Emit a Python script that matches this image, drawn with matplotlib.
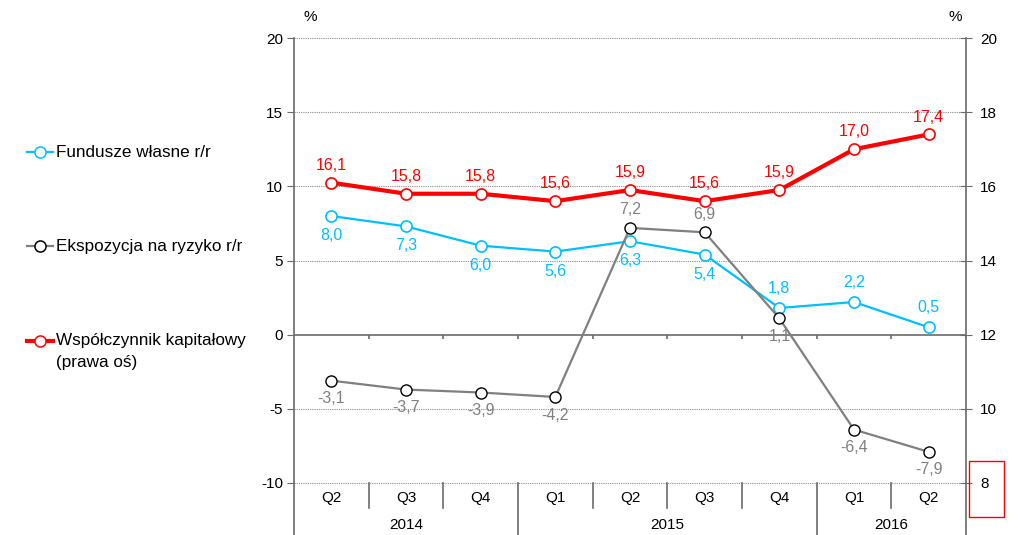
import matplotlib.pyplot as plt
from matplotlib.lines import Line2D
from matplotlib.patches import Rectangle
import matplotlib.transforms as mtransforms

plt.rcParams['font.family'] = ['Liberation Sans', 'DejaVu Sans']
plt.rcParams['axes.unicode_minus'] = False

quarters = ['Q2', 'Q3', 'Q4', 'Q1', 'Q2', 'Q3', 'Q4', 'Q1', 'Q2']
years = ['2014', '2015', '2016']
year_spans = [(0, 2), (3, 6), (7, 8)]  # first and last quarter index of each year
fundusze = [8.0, 7.3, 6.0, 5.6, 6.3, 5.4, 1.8, 2.2, 0.5]
ekspozycja = [-3.1, -3.7, -3.9, -4.2, 7.2, 6.9, 1.1, -6.4, -7.9]
wspolczynnik = [16.1, 15.8, 15.8, 15.6, 15.9, 15.6, 15.9, 17.0, 17.4]

# where the value label sits: 1 above the marker, -1 below
pos_fund = [-1, -1, -1, -1, -1, -1, 1, 1, 1]
pos_eksp = [-1, -1, -1, -1, 1, 1, -1, -1, -1]

CYAN = '#00BFFF'
GREY = '#808080'
RED = '#FF0000'

W, H = 1018, 535
fig = plt.figure(figsize=(W / 100, H / 100), dpi=100)
ax = fig.add_axes([294 / W, (H - 483) / H, (966 - 294) / W, (483 - 38) / H])
ax2 = ax.twinx()

x = list(range(len(quarters)))
ax.set_xlim(-0.5, len(quarters) - 0.5)
ax.set_ylim(-10, 20)
ax2.set_ylim(8, 20)
ax.set_yticks([-10, -5, 0, 5, 10, 15, 20])
ax2.set_yticks([8, 10, 12, 14, 16, 18, 20])
ax.set_xticks([])

for a in (ax, ax2):
    for s in ('top', 'bottom'):
        a.spines[s].set_visible(False)
    a.spines['left'].set_color('#6b6b6b')
    a.spines['right'].set_color('#6b6b6b')
    a.spines['left'].set_linewidth(1.2)
    a.spines['right'].set_linewidth(1.2)
ax2.spines['left'].set_visible(False)
ax.spines['right'].set_visible(False)
ax.tick_params(axis='y', direction='out', length=5, color='#6b6b6b', labelsize=11, pad=3)
ax2.tick_params(axis='y', direction='inout', length=8, color='#6b6b6b', labelsize=11, pad=6)

# grid (dotted) except zero line, which is solid
for v in [-10, -5, 5, 10, 15, 20]:
    ax.axhline(v, color='#8c8c8c', lw=0.8, ls=(0, (1, 1)), zorder=0, clip_on=False)
ax.axhline(0, color='#6b6b6b', lw=1.2, zorder=1)
bounds = [i + 0.5 for i in range(len(quarters) - 1)] + [len(quarters) - 0.5]
ax.vlines(bounds, -0.3, 0, color='#6b6b6b', lw=1.2, zorder=1)

# series
ax.plot(x, fundusze, color=CYAN, lw=1.6, marker='o', ms=8, mfc='white', mec=CYAN, mew=1.2, zorder=3)
ax.plot(x, ekspozycja, color=GREY, lw=1.6, marker='o', ms=8, mfc='white', mec='black', mew=1.0, zorder=4)
ax2.plot(x, wspolczynnik, color=RED, lw=3, marker='o', ms=8, mfc='white', mec=RED, mew=1.2, zorder=5)


def fmt(v):
    return f'{v:.1f}'.replace('.', ',')


for i, v in enumerate(fundusze):
    ax.annotate(fmt(v), (i, v), xytext=(0, 14 * pos_fund[i]), textcoords='offset points',
                ha='center', va='center', color=CYAN, fontsize=11.5)
for i, v in enumerate(ekspozycja):
    ax.annotate(fmt(v), (i, v), xytext=(0, 13 * pos_eksp[i]), textcoords='offset points',
                ha='center', va='center', color=GREY, fontsize=11.5)
for i, v in enumerate(wspolczynnik):
    ax2.annotate(fmt(v), (i, v), xytext=(0, 12.5), textcoords='offset points',
                 ha='center', va='center', color=RED, fontsize=11.5)

# category table under the plot
tr = mtransforms.blended_transform_factory(ax.transData, ax.transAxes)
bot = -52 / 445
for i, q in enumerate(quarters):
    ax.text(i, -15 / 445, q, transform=tr, ha='center', va='center', fontsize=11)
year_sep = [s[0] - 0.5 for s in year_spans] + [len(quarters) - 0.5]
for b in year_sep:
    ax.plot([b, b], [0, bot], transform=tr, color='#6b6b6b', lw=1.2, clip_on=False)
for b in bounds[:-1]:
    if b not in year_sep:
        ax.plot([b, b], [0, -25 / 445], transform=tr, color='#6b6b6b', lw=1.2, clip_on=False)
for yr, (a0, a1) in zip(years, year_spans):
    ax.text((a0 + a1) / 2, -42 / 445, yr, transform=tr, ha='center', va='center', fontsize=11)

# % labels
fig.text(310 / W, 1 - 17 / H, '%', ha='center', va='center', fontsize=11)
fig.text(955 / W, 1 - 17 / H, '%', ha='center', va='center', fontsize=11)

# red box around the bottom right label
fig.add_artist(Rectangle((969 / W, 1 - 517 / H), 35 / W, 56 / H, transform=fig.transFigure,
                         fill=False, edgecolor=RED, lw=1))

# legend on the left
entries = [
    (152, 'Fundusze własne r/r', CYAN, CYAN, 1.6),
    (246, 'Ekspozycja na ryzyko r/r', GREY, 'black', 1.6),
    (341, 'Współczynnik kapitałowy', RED, RED, 3),
]
for yp, label, lc, mc, lw in entries:
    yf = 1 - yp / H
    fig.add_artist(Line2D([27 / W, 53 / W], [yf, yf], color=lc, lw=lw, transform=fig.transFigure))
    fig.add_artist(Line2D([40 / W], [yf], marker='o', ms=8, mfc='white', mec=mc, mew=1.1,
                          transform=fig.transFigure))
    fig.text(56 / W, yf, label, ha='left', va='center', fontsize=12.3)
fig.text(56 / W, 1 - 362 / H, '(prawa oś)', ha='left', va='center', fontsize=12.3)

fig.savefig('out.png', dpi=100)
